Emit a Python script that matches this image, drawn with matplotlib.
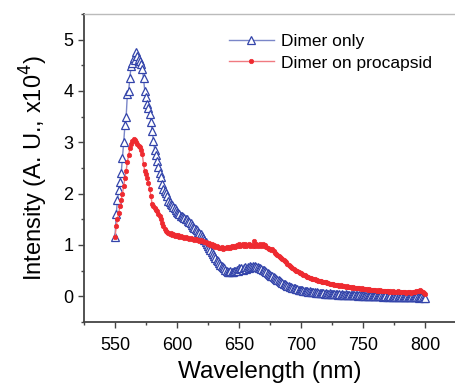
import matplotlib
matplotlib.use("Agg")
import matplotlib.pyplot as plt
import numpy as np
from matplotlib.ticker import MultipleLocator

plt.rcParams['font.family'] = ['Liberation Sans', 'DejaVu Sans']

# wavelength grid, 1 nm steps (550..800 nm)
wavelength = np.arange(550, 801)

# Dimer only (x10^4 A.U.)
dimer_only = [
    1.15, 1.60, 1.88, 2.07, 2.23, 2.40, 2.70, 3.00, 3.33, 3.50,
    3.95, 4.00, 4.26, 4.49, 4.55, 4.65, 4.60, 4.75, 4.68, 4.62,
    4.59, 4.52, 4.42, 4.25, 4.00, 3.88, 3.75, 3.66, 3.55, 3.40,
    3.22, 3.03, 2.85, 2.75, 2.64, 2.52, 2.40, 2.32, 2.18, 2.09,
    2.05, 2.02, 1.95, 1.86, 1.83, 1.80, 1.77, 1.74, 1.72, 1.68,
    1.65, 1.63, 1.60, 1.57, 1.56, 1.54, 1.52, 1.51, 1.50, 1.47,
    1.44, 1.42, 1.39, 1.36, 1.34, 1.31, 1.29, 1.26, 1.24, 1.21,
    1.17, 1.14, 1.10, 1.06, 1.02, 0.98, 0.94, 0.90, 0.86, 0.82,
    0.79, 0.75, 0.71, 0.68, 0.65, 0.62, 0.59, 0.57, 0.55, 0.52,
    0.50, 0.48, 0.47, 0.49, 0.47, 0.48, 0.50, 0.49, 0.52, 0.50,
    0.55, 0.53, 0.56, 0.52, 0.55, 0.57, 0.54, 0.58, 0.56, 0.59,
    0.58, 0.60, 0.58, 0.59, 0.57, 0.58, 0.56, 0.55, 0.54, 0.52,
    0.51, 0.49, 0.48, 0.45, 0.44, 0.42, 0.40, 0.39, 0.37, 0.35,
    0.34, 0.32, 0.31, 0.29, 0.28, 0.26, 0.25, 0.24, 0.22, 0.21,
    0.20, 0.19, 0.18, 0.17, 0.16, 0.16, 0.15, 0.14, 0.13, 0.13,
    0.12, 0.12, 0.11, 0.11, 0.10, 0.10, 0.09, 0.10, 0.09, 0.08,
    0.08, 0.08, 0.07, 0.08, 0.07, 0.06, 0.07, 0.06, 0.06, 0.05,
    0.06, 0.05, 0.05, 0.06, 0.04, 0.05, 0.04, 0.05, 0.04, 0.04,
    0.03, 0.04, 0.03, 0.04, 0.03, 0.03, 0.04, 0.02, 0.03, 0.03,
    0.02, 0.03, 0.02, 0.02, 0.03, 0.02, 0.01, 0.02, 0.02, 0.01,
    0.02, 0.01, 0.01, 0.02, 0.01, 0.00, 0.01, 0.01, 0.00, 0.01,
    0.00, 0.01, 0.00, 0.00, 0.01, 0.00, -0.01, 0.00, 0.00, -0.01,
    0.00, -0.01, 0.00, -0.01, -0.01, 0.00, -0.01, -0.02, -0.01, 0.00,
    -0.01, -0.02, -0.01, -0.01, -0.02, -0.01, -0.02, -0.01, -0.02, -0.02,
    -0.01, -0.02, -0.01, -0.02, -0.02, -0.03, -0.02, -0.01, -0.02, -0.03,
    -0.03,
]

# Dimer on procapsid (x10^4 A.U.)
dimer_procapsid = [
    1.15, 1.37, 1.50, 1.63, 1.75, 1.88, 2.00, 2.15, 2.30, 2.45,
    2.62, 2.75, 2.88, 2.96, 3.02, 3.06, 3.05, 3.00, 2.97, 2.93,
    2.91, 2.85, 2.77, 2.58, 2.44, 2.38, 2.30, 2.21, 2.09, 1.95,
    1.79, 1.75, 1.72, 1.68, 1.66, 1.60, 1.56, 1.50, 1.43, 1.37,
    1.32, 1.28, 1.26, 1.24, 1.22, 1.23, 1.20, 1.21, 1.18, 1.20,
    1.17, 1.19, 1.16, 1.17, 1.15, 1.16, 1.14, 1.15, 1.13, 1.14,
    1.12, 1.13, 1.11, 1.12, 1.10, 1.11, 1.09, 1.10, 1.08, 1.09,
    1.07, 1.08, 1.05, 1.06, 1.04, 1.02, 1.03, 1.00, 1.02, 0.99,
    1.00, 0.97, 0.98, 0.96, 0.95, 0.94, 0.96, 0.93, 0.95, 0.94,
    0.96, 0.94, 0.97, 0.95, 0.98, 0.96, 0.99, 0.97, 1.00, 0.98,
    1.01, 0.99, 1.00, 1.02, 0.99, 1.01, 0.98, 1.00, 1.01, 0.99,
    1.00, 0.98, 1.07, 0.99, 1.01, 0.98, 1.00, 1.02, 0.99, 1.01,
    0.98, 1.00, 0.97, 0.95, 0.92, 0.93, 0.90, 0.92, 0.88, 0.85,
    0.82, 0.80, 0.78, 0.77, 0.74, 0.72, 0.70, 0.68, 0.66, 0.63,
    0.61, 0.59, 0.57, 0.55, 0.54, 0.52, 0.50, 0.49, 0.47, 0.46,
    0.45, 0.44, 0.42, 0.41, 0.40, 0.38, 0.37, 0.36, 0.35, 0.34,
    0.33, 0.33, 0.32, 0.31, 0.30, 0.30, 0.29, 0.28, 0.28, 0.27,
    0.27, 0.26, 0.26, 0.25, 0.25, 0.24, 0.24, 0.23, 0.23, 0.22,
    0.22, 0.21, 0.22, 0.21, 0.20, 0.20, 0.19, 0.20, 0.19, 0.18,
    0.18, 0.17, 0.18, 0.17, 0.17, 0.16, 0.17, 0.16, 0.15, 0.16,
    0.15, 0.14, 0.15, 0.14, 0.13, 0.14, 0.13, 0.13, 0.12, 0.13,
    0.12, 0.11, 0.12, 0.11, 0.12, 0.11, 0.10, 0.11, 0.10, 0.11,
    0.10, 0.09, 0.10, 0.09, 0.10, 0.09, 0.08, 0.09, 0.10, 0.09,
    0.08, 0.09, 0.08, 0.09, 0.08, 0.07, 0.08, 0.09, 0.08, 0.07,
    0.08, 0.09, 0.08, 0.10, 0.11, 0.10, 0.12, 0.11, 0.09, 0.07,
    0.05,
]

fig = plt.figure(figsize=(4.56, 3.85), dpi=100)
ax = fig.add_axes([84 / 456, 1 - 322 / 385, 1 - 84 / 456, 308 / 385])

ax.plot(wavelength, dimer_only, color='#7a86c8', linewidth=1.0,
        marker='^', markersize=5.5, markerfacecolor='white',
        markeredgecolor='#3344aa', markeredgewidth=0.9, label='Dimer only')
ax.plot(wavelength, dimer_procapsid, color='#f07a80', linewidth=1.0,
        marker='o', markersize=3.2, markerfacecolor='#ee2a30',
        markeredgecolor='#ee2a30', markeredgewidth=0.5, label='Dimer on procapsid')

ax.set_xlim(525, 825)
ax.set_ylim(-0.5, 5.5)
ax.xaxis.set_major_locator(MultipleLocator(50))
ax.xaxis.set_minor_locator(MultipleLocator(25))
ax.yaxis.set_major_locator(MultipleLocator(1))
ax.yaxis.set_minor_locator(MultipleLocator(0.5))

for side in ['left', 'bottom']:
    ax.spines[side].set_color('#444444')
    ax.spines[side].set_linewidth(1.3)
ax.spines['top'].set_color('#bbbbbb')
ax.spines['top'].set_linewidth(1.0)
ax.spines['right'].set_visible(False)

ax.tick_params(which='major', direction='out', length=4.5, width=1.0,
               color='#444444', labelsize=13, pad=3)
ax.tick_params(axis='x', which='major', pad=6)
ax.tick_params(which='minor', direction='out', length=2.5, width=1.0, color='#444444')
ax.tick_params(top=False, right=False, which='both')

ax.set_xlabel('Wavelength (nm)', fontsize=17.5, labelpad=5.5)
ax.set_ylabel('Intensity (A. U., x10$^4$)', fontsize=17, labelpad=10)

leg = ax.legend(loc='upper left', bbox_to_anchor=(0.37, 0.957), frameon=False,
                fontsize=12.5, handlelength=2.6, handletextpad=0.4,
                labelspacing=0.35, borderaxespad=0, numpoints=1)

fig.savefig('out.png', dpi=100)
